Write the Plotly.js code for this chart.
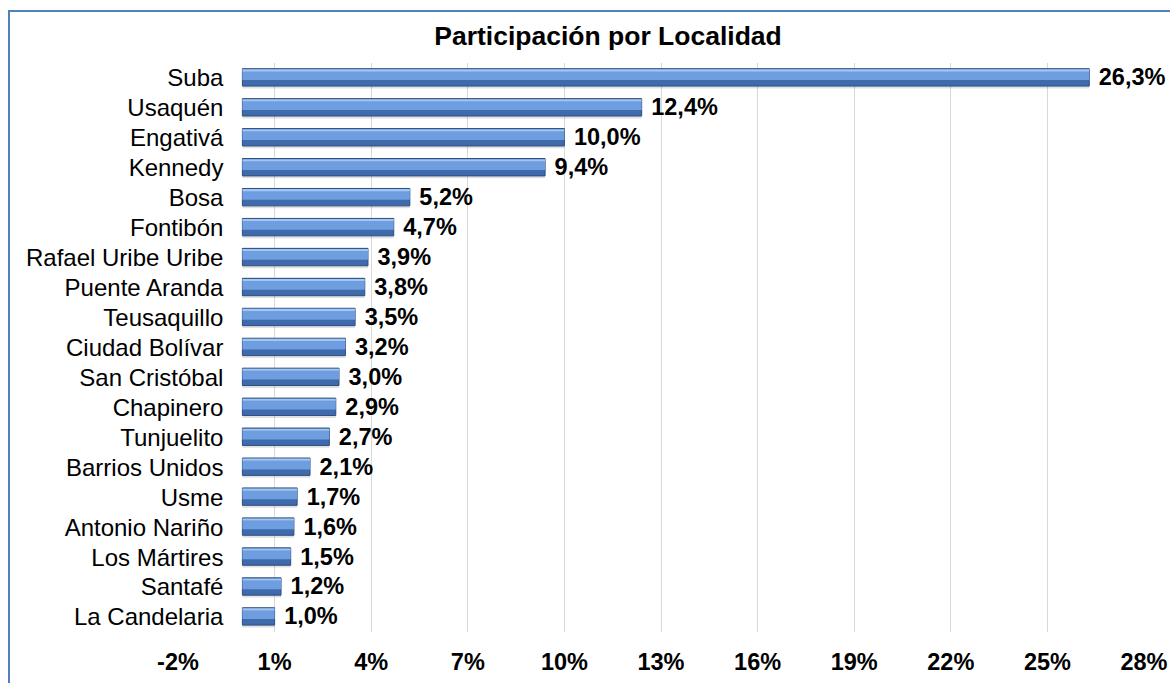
<!DOCTYPE html>
<html>
<head>
<meta charset="utf-8">
<script src="https://cdn.plot.ly/plotly-3.0.1.min.js"></script>
<style>html,body{margin:0;padding:0;background:#fff;}#chart{width:1170px;height:683px;}</style>
</head>
<body>
<div id="chart"></div>
<script>
const localidades = ["Suba","Usaquén","Engativá","Kennedy","Bosa","Fontibón","Rafael Uribe Uribe","Puente Aranda","Teusaquillo","Ciudad Bolívar","San Cristóbal","Chapinero","Tunjuelito","Barrios Unidos","Usme","Antonio Nariño","Los Mártires","Santafé","La Candelaria"];
const participacion = [26.3,12.4,10.0,9.4,5.2,4.7,3.9,3.8,3.5,3.2,3.0,2.9,2.7,2.1,1.7,1.6,1.5,1.2,1.0];
const xTickVals = [-2,1,4,7,10,13,16,19,22,25,28];
const xTickText = ["-2%","1%","4%","7%","10%","13%","16%","19%","22%","25%","28%"];
const chartTitle = "Participación por Localidad";

const xRange = [-2, 28];
const labels = participacion.map(v => '\u00a0' + v.toFixed(1).replace('.', ',') + '%');
const font = "Liberation Sans, Arial, sans-serif";

const shadow = {type:'bar', orientation:'h', x:participacion, y:localidades, width:0.6, offset:-0.25,
  marker:{color:'rgba(0,0,0,0.12)'}, hoverinfo:'skip', showlegend:false};
const base = {type:'bar', orientation:'h', x:participacion, y:localidades, width:0.58, offset:-0.31,
  marker:{color:'#3F6AAB', line:{color:'#2C4E82', width:1}},
  text:labels, textposition:'outside', cliponaxis:false, constraintext:'none',
  textfont:{family:font, size:23.5, color:'#000', weight:'bold'}, showlegend:false};
const mid = {type:'bar', orientation:'h', x:participacion, y:localidades, width:0.30, offset:-0.23,
  marker:{color:'#6E9EDF'}, hoverinfo:'skip', showlegend:false};
const hi = {type:'bar', orientation:'h', x:participacion, y:localidades, width:0.07, offset:-0.29,
  marker:{color:'#A3C6F1'}, hoverinfo:'skip', showlegend:false};

const L = 178, R = 26, T = 63, B = 51, W = 1170, H = 683;
const pw = W - L - R, ph = H - T - B;
const px2x = p => (p - L) / pw;
const py2y = p => (H - B - p) / ph;

const layout = {
  width: W, height: H,
  margin: {l: L, r: R, t: T, b: B},
  paper_bgcolor: '#fff', plot_bgcolor: '#fff',
  barmode: 'overlay',
  title: {text: chartTitle, font: {family: font, size: 26.5, color: '#000', weight: 'bold'},
    x: px2x(608), xref: 'paper', xanchor: 'center', y: 1 - 36/H, yref: 'container', yanchor: 'middle'},
  xaxis: {range: xRange, tickvals: xTickVals, ticktext: xTickText, showgrid: true, gridcolor: '#D9D9D9', gridwidth: 1,
    zeroline: false, showline: false, ticks: '', ticklabelstandoff: 13,
    tickfont: {family: font, size: 23.5, color: '#000', weight: 'bold'}, fixedrange: true},
  yaxis: {autorange: 'reversed', type: 'category', anchor: 'free', position: (0 - xRange[0]) / (xRange[1] - xRange[0]),
    showgrid: false, zeroline: false, showline: false, ticks: '', ticklabelstandoff: 19,
    tickfont: {family: font, size: 24, color: '#000'}, fixedrange: true},
  shapes: [{type: 'rect', xref: 'paper', yref: 'paper', x0: px2x(9), x1: px2x(1180), y0: py2y(11), y1: py2y(700),
    line: {color: '#4F81BD', width: 2}, fillcolor: 'rgba(0,0,0,0)', layer: 'above'}],
  showlegend: false
};

Plotly.newPlot('chart', [shadow, base, mid, hi], layout, {displayModeBar: false, staticPlot: true});
</script>
</body>
</html>
